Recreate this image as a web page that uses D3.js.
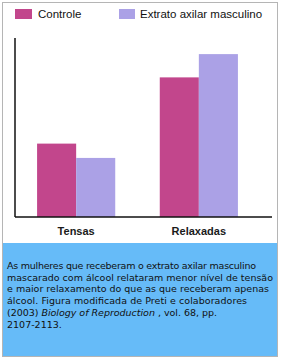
<!DOCTYPE html>
<html>
<head>
<meta charset="utf-8">
<script src="https://cdn.jsdelivr.net/npm/d3@7"></script>
<style>
  body { margin: 0; background: #fff; }
  #wrapper { width: 281px; height: 360px; }
</style>
</head>
<body>
<div id="wrapper"></div>
<script>
// data
const categories = ['Tensas', 'Relaxadas']
const seriesNames = ['Controle', 'Extrato axilar masculino']
const controleValues = [41, 78]
const extratoValues = [33, 91]
const captionLines = [
  'As mulheres que receberam o extrato axilar masculino',
  'mascarado com álcool relataram menor nível de tensão',
  'e maior relaxamento do que as que receberam apenas',
  'álcool. Figura modificada de Preti e colaboradores',
  '(2003) |Biology of Reproduction| , vol. 68, pp.',
  '2107-2113.',
]

// layout
const width = 281
const height = 360
const colors = ['#c2468c', '#aba1e6']
const plot = { left: 15, right: 272, top: 38, bottom: 217 }
const captionWidths = [249, 266, 262, 240, 210, null]

const svg = d3
  .select('#wrapper')
  .append('svg')
  .attr('width', width)
  .attr('height', height)

// frame
svg
  .append('rect')
  .attr('x', 2.5)
  .attr('y', 2.5)
  .attr('width', 275)
  .attr('height', 354)
  .attr('fill', '#fff')
  .attr('stroke', '#b5b5b5')

// legend
const legend = svg
  .append('g')
  .selectAll('g')
  .data(seriesNames)
  .enter()
  .append('g')
  .attr('transform', (d, i) => `translate(${[15, 119][i]}, 9)`)
legend
  .append('rect')
  .attr('width', (d, i) => (i == 0 ? 17 : 16))
  .attr('height', 10)
  .attr('fill', (d, i) => colors[i])
legend
  .append('text')
  .attr('x', (d, i) => (i == 0 ? 23 : 21))
  .attr('y', 9)
  .style('font-family', 'Liberation Sans, Arial, sans-serif')
  .style('font-size', '11.5px')
  .style('fill', '#111')
  .text((d) => d)

// scales
const xScale = d3
  .scaleBand()
  .domain(categories)
  .range([plot.left, 260])
  .paddingInner(0.363)
  .paddingOuter(0.18)
const xSub = d3
  .scaleBand()
  .domain([0, 1])
  .range([0, xScale.bandwidth()])
const yScale = d3
  .scaleLinear()
  .domain([0, 100])
  .range([plot.bottom, plot.top])

const barData = categories.flatMap((c, i) => [
  { cat: c, s: 0, v: controleValues[i] },
  { cat: c, s: 1, v: extratoValues[i] },
])

svg
  .append('g')
  .selectAll('rect')
  .data(barData)
  .enter()
  .append('rect')
  .attr('x', (d) => xScale(d.cat) + xSub(d.s))
  .attr('y', (d) => yScale(d.v))
  .attr('width', xSub.bandwidth())
  .attr('height', (d) => yScale(0) - yScale(d.v))
  .attr('fill', (d) => colors[d.s])

// axes lines
svg
  .append('line')
  .attr('x1', plot.left)
  .attr('x2', plot.left)
  .attr('y1', plot.top)
  .attr('y2', plot.bottom)
  .attr('stroke', '#111')
  .attr('stroke-width', 1.5)
svg
  .append('line')
  .attr('x1', plot.left)
  .attr('x2', plot.right)
  .attr('y1', plot.bottom)
  .attr('y2', plot.bottom)
  .attr('stroke', '#111')
  .attr('stroke-width', 1.5)

const xAxis = svg
  .append('g')
  .attr('transform', `translate(0, ${plot.bottom})`)
  .call(d3.axisBottom(xScale).tickSize(0).tickPadding(10))
xAxis.select('.domain').remove()
xAxis
  .selectAll('text')
  .style('font-family', 'Liberation Sans, Arial, sans-serif')
  .style('font-size', '11px')
  .style('font-weight', 'bold')
  .style('fill', '#1a1a1a')

// caption box
svg
  .append('rect')
  .attr('x', 3)
  .attr('y', 243)
  .attr('width', 274)
  .attr('height', 113)
  .attr('fill', '#66bbf8')

const caption = svg
  .append('g')
  .selectAll('text')
  .data(captionLines)
  .enter()
  .append('text')
  .attr('x', 7)
  .attr('y', (d, i) => 269 + i * 11.7)
  .style('font-family', 'DejaVu Sans, Verdana, sans-serif')
  .style('font-size', '9.5px')
  .style('fill', '#111')
  .each(function (d, i) {
    const t = d3.select(this)
    d.split('|').forEach((part, j) => {
      t.append('tspan')
        .style('font-style', j == 1 ? 'italic' : 'normal')
        .text(part)
    })
    if (captionWidths[i])
      t.attr('textLength', captionWidths[i]).attr('lengthAdjust', 'spacing')
  })
</script>
</body>
</html>
